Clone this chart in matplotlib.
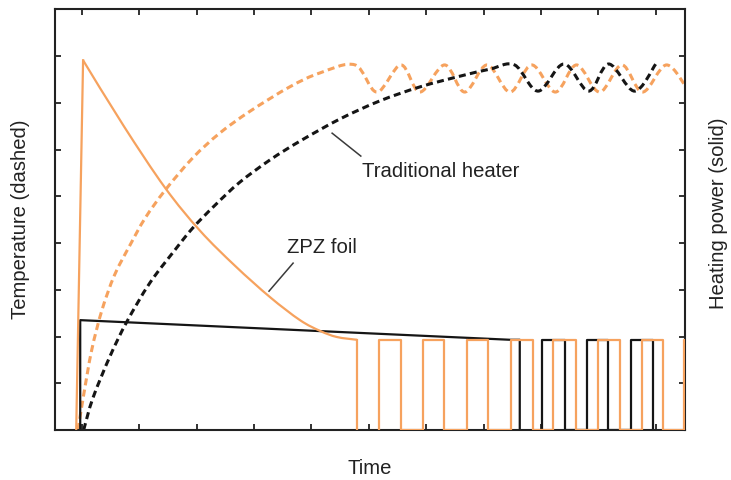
import numpy as np
import matplotlib
matplotlib.use('Agg')
import matplotlib.pyplot as plt
from matplotlib.path import Path
from matplotlib.patches import PathPatch

plt.rcParams['font.family'] = ['Liberation Sans', 'DejaVu Sans']

ORANGE = '#f6a25e'
BLACK = '#151515'

# ZPZ foil temperature (orange dashed): rise, then oscillation peaks/troughs
zpz_temp_x = [-0.07, 0.03, 0.17, 0.35, 0.57, 0.84, 1.10, 1.45, 1.93, 2.40, 2.93, 3.62, 4.15,
              4.76, 5.14, 5.56, 5.89, 6.32, 6.67, 7.06, 7.46, 7.84, 8.25, 8.62, 9.02,
              9.41, 9.77, 10.19, 10.58]
zpz_temp_y = [0.0, 0.75, 1.71, 2.57, 3.32, 3.96, 4.53, 5.13, 5.82, 6.35, 6.82, 7.34, 7.64,
              7.81, 7.23, 7.81, 7.23, 7.81, 7.23, 7.81, 7.23, 7.81, 7.23, 7.81, 7.23,
              7.81, 7.23, 7.81, 7.23]

# traditional heater temperature (black dashed)
trad_temp_x = [0.03, 0.19, 0.49, 0.78, 1.18, 1.62, 1.93, 2.32, 2.75, 3.28, 3.80, 4.49,
               5.19, 5.89, 6.59, 7.11, 7.54, 7.95, 8.40, 8.83, 9.18, 9.63, 10.0]
trad_temp_y = [0.0, 0.68, 1.58, 2.31, 3.14, 3.85, 4.32, 4.81, 5.30, 5.78, 6.18, 6.65,
               7.04, 7.34, 7.57, 7.72, 7.81, 7.25, 7.83, 7.25, 7.83, 7.25, 7.83]

# ZPZ foil heating power (orange solid): spike and decay
zpz_power_x = [0.02, 0.73, 1.45, 2.06, 2.67, 3.28, 3.80, 4.15, 4.44, 4.79]
zpz_power_y = [7.91, 6.50, 5.18, 4.26, 3.51, 2.84, 2.35, 2.12, 1.99, 1.93]
zpz_start = -0.10
zpz_on = [5.17, 5.94, 6.71, 7.47, 8.21, 8.99, 9.76, 10.50]
zpz_off = [5.56, 6.31, 7.07, 7.86, 8.61, 9.37, 10.12, 10.90]

# traditional heater power (black solid)
trad_power_x = [-0.03, -0.03, 7.46, 7.63, 7.63]
trad_power_y = [0.0, 2.35, 1.93, 1.93, 0.0]
trad_on = [8.01, 8.80, 9.56]
trad_off = [8.41, 9.16, 9.95]

pulse_level = 1.93


def smooth_curve(ax, xs, ys, **kw):
    # catmull-rom through the read points, drawn as bezier path
    pts = np.column_stack([xs, ys])
    n = len(pts)
    verts = [pts[0]]
    codes = [Path.MOVETO]
    for i in range(n - 1):
        p0 = pts[max(i - 1, 0)]
        p1 = pts[i]
        p2 = pts[i + 1]
        p3 = pts[min(i + 2, n - 1)]
        verts += [p1 + (p2 - p0) / 6, p2 - (p3 - p1) / 6, p2]
        codes += [Path.CURVE4] * 3
    ax.add_patch(PathPatch(Path(verts, codes), fill=False, **kw))


def pulses(on, off, level):
    xs, ys = [], []
    for a, b in zip(on, off):
        xs += [a, a, b, b]
        ys += [0, level, level, 0]
    return xs, ys


fig = plt.figure(figsize=(7.31, 4.80), dpi=100)
ax = fig.add_axes([0.0752, 0.1042, 0.8619, 0.8764])

dash = (0, (2.3, 1.4))
smooth_curve(ax, zpz_temp_x, zpz_temp_y, edgecolor=ORANGE, lw=2.2,
             linestyle=dash, zorder=1)
smooth_curve(ax, trad_temp_x, trad_temp_y, edgecolor=BLACK, lw=2.2,
             linestyle=dash, zorder=1.5)

# black power
ax.plot(trad_power_x, trad_power_y, color=BLACK, lw=1.6, zorder=2)
px, py = pulses(trad_on, trad_off, pulse_level)
ax.plot(px, py, color=BLACK, lw=1.6, zorder=2)

# orange power
ax.plot([zpz_start, zpz_power_x[0]], [0, zpz_power_y[0]], color=ORANGE, lw=1.6, zorder=3)
smooth_curve(ax, zpz_power_x, zpz_power_y, edgecolor=ORANGE, lw=1.6, zorder=3)
ax.plot([zpz_power_x[-1], zpz_power_x[-1]], [pulse_level, 0], color=ORANGE, lw=1.6, zorder=3)
px, py = pulses(zpz_on, zpz_off, pulse_level)
ax.plot(px, py, color=ORANGE, lw=1.6, zorder=3)

# labels with pointer lines
ax.plot([4.36, 4.86], [6.35, 5.86], color='#3a3a3a', lw=1.1)
ax.text(4.88, 5.52, 'Traditional heater', fontsize=14.6, color='#222222',
        ha='left', va='center')
ax.plot([3.68, 3.26], [3.57, 2.97], color='#3a3a3a', lw=1.1)
ax.text(3.57, 3.91, 'ZPZ foil', fontsize=14.6, color='#222222',
        ha='left', va='center')

ax.set_xlim(-0.47, 10.51)
ax.set_ylim(0, 9)
ax.set_xticks(range(11))
ax.set_yticks(range(10))
ax.tick_params(direction='in', length=4.5, width=1.3, color='#222222',
               top=True, right=True, labelbottom=False, labelleft=False)
for s in ax.spines.values():
    s.set_linewidth(1.5)
    s.set_color('#222222')

fig.text(370 / 731, 1 - 468 / 480, 'Time', fontsize=14.6, color='#222222',
         ha='center', va='center')
fig.text(21 / 731, 1 - 219 / 480, 'Temperature (dashed)', fontsize=14.6,
         color='#222222', rotation=90, ha='center', va='center')
fig.text(719 / 731, 1 - 213 / 480, 'Heating power (solid)', fontsize=14.6,
         color='#222222', rotation=90, ha='center', va='center')

fig.savefig('out.png', dpi=100)
